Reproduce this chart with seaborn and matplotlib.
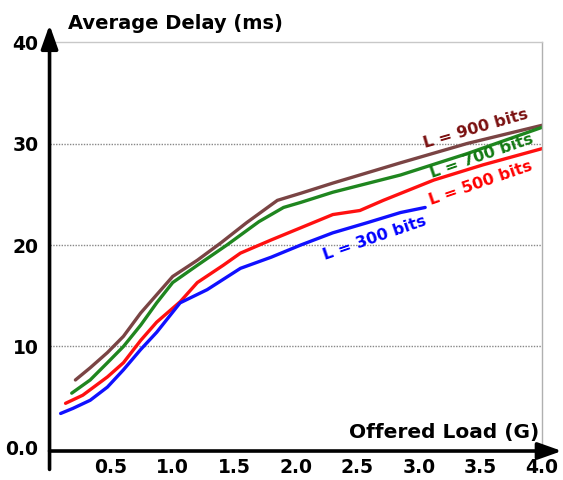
import seaborn as sns
import matplotlib.pyplot as plt
import pandas as pd

# values
load_300 = [0.09, 0.19, 0.33, 0.47, 0.60, 0.74, 0.87, 1.06, 1.28, 1.55, 1.80, 2.04, 2.30, 2.58, 2.85, 3.05]
delay_300 = [3.4, 3.9, 4.7, 6.0, 7.7, 9.7, 11.4, 14.3, 15.6, 17.7, 18.8, 20.0, 21.2, 22.2, 23.2, 23.7]

load_500 = [0.13, 0.27, 0.47, 0.60, 0.74, 0.87, 1.06, 1.20, 1.41, 1.55, 1.80, 2.04, 2.30, 2.52, 2.71, 3.12, 3.52, 4.0]
delay_500 = [4.4, 5.2, 7.0, 8.4, 10.6, 12.4, 14.4, 16.3, 18.0, 19.2, 20.5, 21.7, 23.0, 23.4, 24.4, 26.4, 27.9, 29.5]

load_700 = [0.18, 0.33, 0.47, 0.60, 0.74, 0.87, 1.00, 1.20, 1.44, 1.70, 1.90, 2.04, 2.30, 2.85, 3.39, 4.0]
delay_700 = [5.4, 6.7, 8.4, 10.0, 12.1, 14.3, 16.3, 18.0, 20.0, 22.3, 23.7, 24.2, 25.2, 26.9, 29.0, 31.6]

load_900 = [0.21, 0.33, 0.47, 0.60, 0.74, 0.87, 1.00, 1.20, 1.39, 1.60, 1.85, 2.04, 2.30, 2.85, 3.39, 4.0]
delay_900 = [6.7, 7.9, 9.4, 11.0, 13.3, 15.1, 16.9, 18.5, 20.2, 22.2, 24.4, 25.1, 26.1, 28.1, 30.0, 31.8]

series_names = ["L = 900 bits", "L = 700 bits", "L = 500 bits", "L = 300 bits"]
x_ticks = [0.5, 1.0, 1.5, 2.0, 2.5, 3.0, 3.5, 4.0]
x_tick_labels = ["0.5", "1.0", "1.5", "2.0", "2.5", "3.0", "3.5", "4.0"]
y_ticks = [0, 10, 20, 30, 40]
y_tick_labels = ["0.0", "10", "20", "30", "40"]

line_colors = {"L = 900 bits": "#7a4444", "L = 700 bits": "#1f861f",
               "L = 500 bits": "#ff1010", "L = 300 bits": "#1010ff"}
text_colors = {"L = 900 bits": "#7a1010", "L = 700 bits": "#137a13",
               "L = 500 bits": "#ff0000", "L = 300 bits": "#0000ff"}

frames = []
for name, xs, ys in [("L = 900 bits", load_900, delay_900),
                     ("L = 700 bits", load_700, delay_700),
                     ("L = 500 bits", load_500, delay_500),
                     ("L = 300 bits", load_300, delay_300)]:
    frames.append(pd.DataFrame({"load": xs, "delay": ys, "series": name}))
df = pd.concat(frames, ignore_index=True)

sns.set_style("white")
plt.rcParams['font.family'] = ['DejaVu Sans']
plt.rcParams['text.color'] = 'black'
plt.rcParams['xtick.color'] = 'black'
plt.rcParams['ytick.color'] = 'black'

fig = plt.figure(figsize=(5.63, 4.8), dpi=100)
ax = fig.add_axes([0.088, 0.0604, 0.875, 0.852])

sns.lineplot(data=df, x="load", y="delay", hue="series", palette=line_colors,
             hue_order=series_names, linewidth=2.4, estimator=None, sort=False,
             legend=False, ax=ax)

ax.set_xlim(0, 4.0)
ax.set_ylim(-0.3, 40)
ax.set_xlabel("")
ax.set_ylabel("")

for y in [10, 20, 30]:
    ax.axhline(y, color="#888888", lw=1.0, ls=(0, (1, 1)), zorder=0)

ax.set_xticks(x_ticks)
ax.set_xticklabels(x_tick_labels, fontsize=13.5, fontweight="bold")
ax.set_yticks(y_ticks)
ax.set_yticklabels(y_tick_labels, fontsize=13.5, fontweight="bold")
ax.tick_params(axis="x", direction="out", length=9.5, width=1.0, color="#555555",
               labelcolor="black", pad=-4.5)
ax.tick_params(axis="y", length=0, pad=8, labelcolor="black")

for side in ["left", "bottom"]:
    ax.spines[side].set_visible(False)
ax.spines["top"].set_color("#c8c8c8")
ax.spines["top"].set_linewidth(1.0)
ax.spines["right"].set_color("#b0b0b0")
ax.spines["right"].set_linewidth(1.0)

# axis lines with arrow heads
arrow = dict(arrowstyle="-|>,head_length=0.9,head_width=0.32", lw=2.6, color="black",
             shrinkA=0, shrinkB=0, mutation_scale=16)
ax.annotate("", xy=(0, 1.042), xytext=(0, -0.045), xycoords="axes fraction",
            arrowprops=arrow, annotation_clip=False)
ax.annotate("", xy=(1.04, 0.0), xytext=(0, 0.0), xycoords="axes fraction",
            arrowprops=arrow, annotation_clip=False)

ax.text(0.037, 1.045, "Average Delay (ms)", transform=ax.transAxes, fontsize=14,
        fontweight="bold", ha="left", va="center", color="black")
ax.text(0.995, 0.045, "Offered Load (G)", transform=ax.transAxes, fontsize=14.5,
        fontweight="bold", ha="right", va="center", color="black")

label_pos = {"L = 900 bits": (3.46, 31.5, 16),
             "L = 700 bits": (3.51, 28.8, 19),
             "L = 500 bits": (3.50, 26.1, 19),
             "L = 300 bits": (2.64, 20.7, 19)}
for name in series_names:
    x, y, rot = label_pos[name]
    ax.text(x, y, name, color=text_colors[name], fontsize=11.5, fontweight="bold",
            rotation=rot, ha="center", va="center", rotation_mode="anchor")

plt.savefig("out.png", dpi=100)
plt.close()
